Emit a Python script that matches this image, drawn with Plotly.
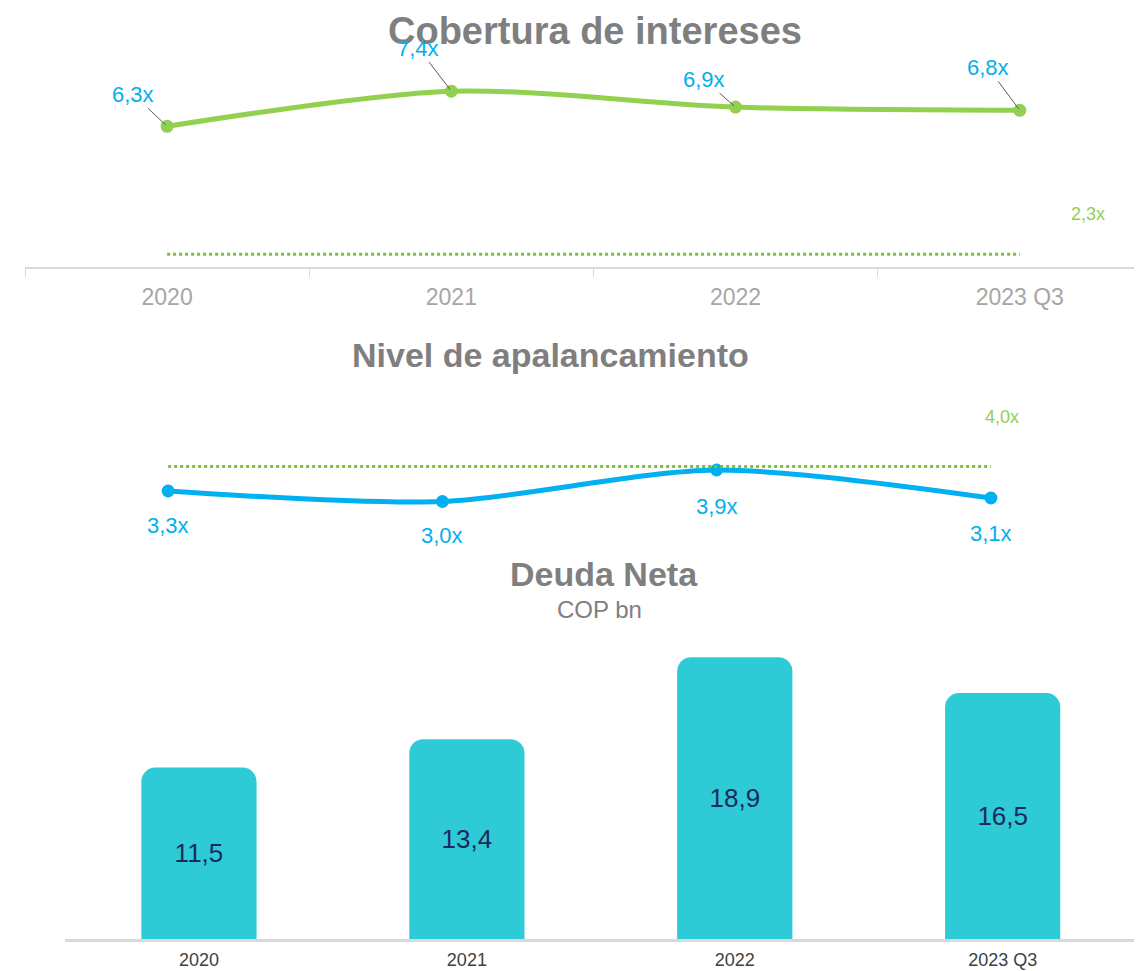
import plotly.graph_objects as go

categories = ["2020", "2021", "2022", "2023 Q3"]
cobertura = [6.3, 7.4, 6.9, 6.8]
cobertura_labels = ["6,3x", "7,4x", "6,9x", "6,8x"]
cobertura_min = 2.3
cobertura_min_label = "2,3x"
apalancamiento = [3.3, 3.0, 3.9, 3.1]
apalancamiento_labels = ["3,3x", "3,0x", "3,9x", "3,1x"]
apalancamiento_max = 4.0
apalancamiento_max_label = "4,0x"
deuda = [11.5, 13.4, 18.9, 16.5]
deuda_labels = ["11,5", "13,4", "18,9", "16,5"]

# page body has an 8px default margin -> figure is 8px smaller and coords offset
OFF = 8
W, H = 1142 - OFF, 971 - OFF
FONT = "Liberation Sans, Arial, sans-serif"
GREEN = "#92d050"
GREEN_DOT = "#7cc234"
BLUE = "#00b0f0"
TEAL = "#2ecad6"
NAVY = "#1b2a5e"
GREY_T = "#7f7f7f"

def px(p):
    return (p - OFF) / W

def py(p):
    return 1 - (p - OFF) / H

fig = go.Figure()

# Top: Cobertura de intereses
fig.add_trace(go.Scatter(x=categories, y=cobertura, mode="lines+markers",
                         line=dict(color=GREEN, width=5, shape="spline", smoothing=0.8),
                         marker=dict(size=13, color=GREEN), xaxis="x", yaxis="y",
                         hoverinfo="skip", showlegend=False))
fig.add_trace(go.Scatter(x=categories, y=[cobertura_min] * len(categories), mode="lines",
                         line=dict(color=GREEN_DOT, width=3, dash="dot"), xaxis="x", yaxis="y",
                         hoverinfo="skip", showlegend=False))

# Middle: Nivel de apalancamiento
fig.add_trace(go.Scatter(x=categories, y=apalancamiento, mode="lines+markers",
                         line=dict(color=BLUE, width=5, shape="spline", smoothing=0.8),
                         marker=dict(size=13, color=BLUE),
                         xaxis="x2", yaxis="y2", hoverinfo="skip", showlegend=False))
fig.add_trace(go.Scatter(x=categories, y=[apalancamiento_max] * len(categories), mode="lines",
                         line=dict(color=GREEN_DOT, width=3, dash="dot"), xaxis="x2", yaxis="y2",
                         hoverinfo="skip", showlegend=False))

# Bottom: Deuda Neta
fig.add_trace(go.Bar(x=categories, y=deuda, width=0.43, marker=dict(color=TEAL, line=dict(width=0)),
                     text=deuda_labels, textposition="inside", insidetextanchor="middle",
                     textfont=dict(family=FONT, size=26, color=NAVY),
                     xaxis="x3", yaxis="y3", hoverinfo="skip", showlegend=False))

def paper_text(x, y, text, size, color):
    return dict(x=px(x), y=py(y), xref="paper", yref="paper", text=text, showarrow=False,
                xanchor="center", yanchor="middle", font=dict(family=FONT, size=size, color=color))

annotations = [
    dict(x=px(595), y=1, xref="paper", yref="paper", text="<b>Cobertura de intereses</b>",
         showarrow=False, xanchor="center", yanchor="top",
         font=dict(family=FONT, size=38, color=GREY_T)),
    paper_text(550, 355, "<b>Nivel de apalancamiento</b>", 34, GREY_T),
    paper_text(604, 574, "<b>Deuda Neta</b>", 34, GREY_T),
    paper_text(599, 609, "COP bn", 24, GREY_T),
    paper_text(1088, 214, cobertura_min_label, 18, GREEN),
    paper_text(1002, 417, apalancamiento_max_label, 18, GREEN),
]
offsets = [(-34, -32), (-33, -43), (-32, -28), (-32, -43)]
for i, (v, lab, (ax, ay)) in enumerate(zip(cobertura, cobertura_labels, offsets)):
    annotations.append(dict(x=i, y=v, xref="x", yref="y", text=lab, showarrow=True,
                            ax=ax, ay=ay, arrowhead=0, arrowwidth=1, arrowcolor="#595959",
                            standoff=2, font=dict(family=FONT, size=22, color=BLUE)))
yshifts = [-34, -34, -36, -35]
for i, (v, lab, ys) in enumerate(zip(apalancamiento, apalancamiento_labels, yshifts)):
    annotations.append(dict(x=i, y=v, xref="x2", yref="y2", text=lab, showarrow=False,
                            yshift=ys, font=dict(family=FONT, size=22, color=BLUE)))

fig.update_layout(
    width=W, height=H, margin=dict(l=0, r=0, t=0, b=0, autoexpand=False),
    paper_bgcolor="white", plot_bgcolor="white", barcornerradius=14,
    annotations=annotations,
    xaxis=dict(domain=[px(25), 1], range=[-0.5, 3.43], type="category",
               showline=True, linecolor="#d9d9d9", linewidth=2, showgrid=False, zeroline=False,
               ticks="outside", tickson="boundaries", ticklen=8, tickcolor="#d9d9d9", tickwidth=1,
               ticklabelstandoff=8,
               tickfont=dict(family=FONT, size=23, color="#a6a6a6"), anchor="y", automargin=False),
    yaxis=dict(domain=[py(267), py(8)], range=[1.9, 10], visible=False, anchor="x"),
    xaxis2=dict(domain=[px(31), px(1128)], range=[-0.5, 3.5], type="category", visible=False, anchor="y2"),
    yaxis2=dict(domain=[py(560), py(380)], range=[1.33, 6.47], visible=False, anchor="x2"),
    xaxis3=dict(domain=[px(65), 1], range=[-0.5, 3.52], type="category",
                showline=True, linecolor="#d9d9d9", linewidth=3, showgrid=False, zeroline=False,
                ticks="", ticklabelstandoff=2,
                tickfont=dict(family=FONT, size=18, color="#404040"), anchor="y3", automargin=False),
    yaxis3=dict(domain=[py(939), py(620)], range=[0, 21.4], visible=False, anchor="x3"),
)

fig.write_html("out.html")
